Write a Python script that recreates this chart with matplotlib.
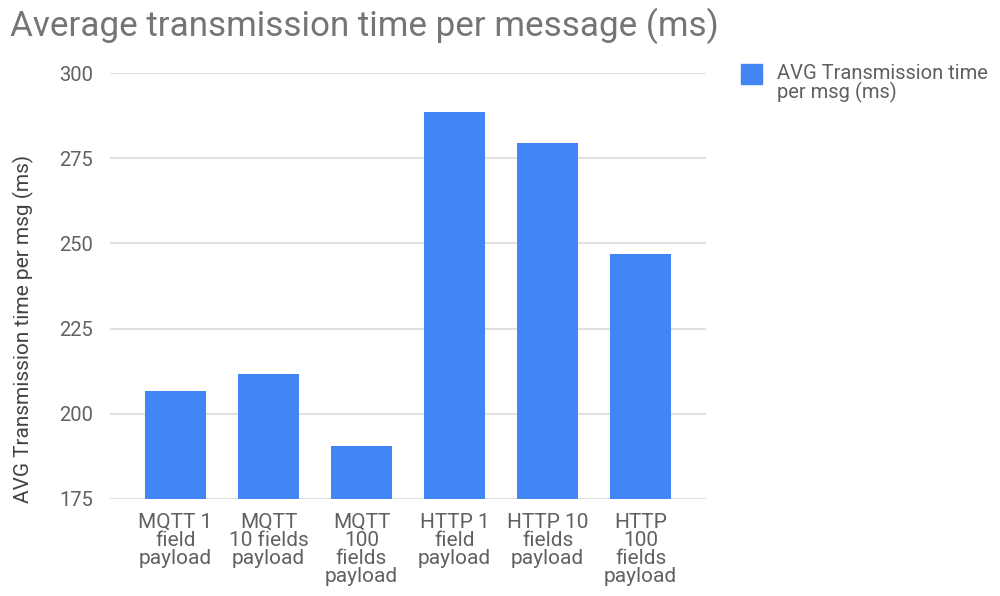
import matplotlib
matplotlib.use("Agg")
import matplotlib.pyplot as plt
from matplotlib.patches import Rectangle

plt.rcParams["font.family"] = ["Roboto", "DejaVu Sans"]

categorias = [
    "MQTT 1\nfield\npayload",
    "MQTT\n10 fields\npayload",
    "MQTT\n100\nfields\npayload",
    "HTTP 1\nfield\npayload",
    "HTTP 10\nfields\npayload",
    "HTTP\n100\nfields\npayload",
]
tiempos_ms = [206.5, 211.6, 190.5, 288.6, 279.4, 246.8]
ticks_y = [175, 200, 225, 250, 275, 300]
serie = "AVG Transmission time\nper msg (ms)"

AZUL = "#4285F4"
GRIS_TEXTO = "#616161"

fig = plt.figure(figsize=(10, 5.96), dpi=100)
ax = fig.add_axes([0.11, 0.1633, 0.596, 0.7137])

x = range(len(categorias))
ax.bar(x, tiempos_ms, width=0.656, color=AZUL, zorder=3)

ax.set_ylim(175, 300)
ax.set_xlim(-0.704, len(categorias) - 1 + 0.704)
ax.set_yticks(ticks_y)
ax.set_yticklabels([str(t) for t in ticks_y])
ax.set_xticks(list(x))
ax.set_xticklabels(categorias, linespacing=0.95)

ax.grid(axis="y", color="#e0e0e0", linewidth=1.5, zorder=0)
for s in ax.spines.values():
    s.set_visible(False)
ax.tick_params(axis="both", length=0, colors=GRIS_TEXTO, labelsize=15)
ax.tick_params(axis="y", labelsize=14.5, pad=12)
ax.tick_params(axis="x", pad=10)

ax.set_ylabel("AVG Transmission time per msg (ms)", fontsize=15,
              color="#424242")
ax.yaxis.set_label_coords(-0.128, 0.40)

fig.text(0.01, 0.957, "Average transmission time per message (ms)",
         fontsize=25.2, color="#757575", ha="left", va="center")

# leyenda a la derecha del gráfico
fig.patches.append(Rectangle((0.741, 1 - 84 / 596), 0.021, 20 / 596,
                             transform=fig.transFigure, color=AZUL))
fig.text(0.777, 1 - 64 / 596, serie, fontsize=14.5, color="#5f5f5f",
         ha="left", va="top", linespacing=0.95)

fig.savefig("out.png", dpi=100)
